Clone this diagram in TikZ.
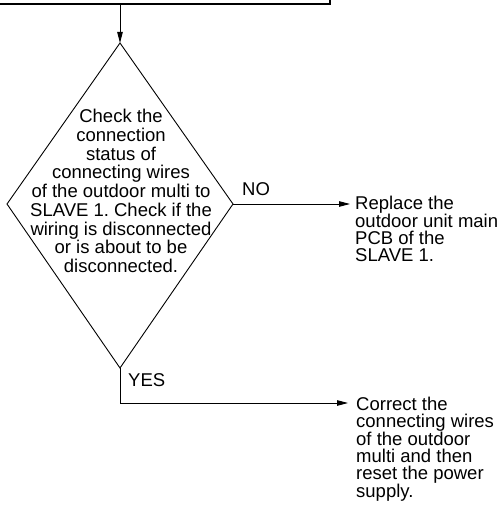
\documentclass[tikz,border=0pt]{standalone}
\usepackage{fontspec}
\setmainfont{Liberation Sans}
\usetikzlibrary{arrows.meta}
\frenchspacing
\tikzset{
  ln/.style={line width=0.9pt, black},
  arr/.style={ln, -{Triangle[length=11pt,width=5.5pt]}},
  body/.style={inner sep=0pt, font=\fontsize{18.5}{18.75}\selectfont\frenchspacing},
  side/.style={inner sep=0pt, align=left, anchor=north west, font=\fontsize{18.5}{16.8}\selectfont\frenchspacing},
  lbl/.style={inner sep=0pt, anchor=base west, font=\fontsize{18.5}{18.5}\selectfont}
}
\begin{document}
\begin{tikzpicture}[x=1pt,y=-1pt]
\useasboundingbox (0,0) rectangle (501,505);
% top box edge
\coordinate (tl) at (0,4.3);
\coordinate (tr) at (330,4.3);
\coordinate (trtop) at (330,0);
\coordinate (topc) at (120,4.3);
\draw[line width=1.6pt] (tl) -- (tr) -- (trtop);
% diamond
\coordinate (dt) at (120,43);
\coordinate (dr) at (233,204);
\coordinate (db) at (120,368);
\coordinate (dl) at (7,204);
\draw[ln, line join=miter] (dt) -- (dr) -- (db) -- (dl) -- cycle;
\node[body, align=center, anchor=north] (q) at (121,109)
 {Check the\\connection\\status of\\connecting wires\\of the outdoor multi to\\SLAVE 1. Check if the\\wiring is disconnected\\or is about to be\\disconnected.};
\draw[arr] (topc) -- (dt);
% NO branch
\coordinate (noend) at (350,204);
\draw[arr] (dr) -- (noend);
\node[lbl] (no) at (242,195.5) {NO};
\node[side] (r1) at (355,196) {Replace the\\outdoor unit main\\PCB of the\\SLAVE 1.};
% YES branch
\coordinate (ycorner) at (120,403);
\coordinate (yesend) at (348,403);
\draw[arr] (db) -- (ycorner) -- (yesend);
\node[lbl] (yes) at (128,386.5) {YES};
\node[side] (r2) at (356,397) {Correct the\\connecting wires\\of the outdoor\\multi and then\\reset the power\\supply.};
\end{tikzpicture}
\end{document}
